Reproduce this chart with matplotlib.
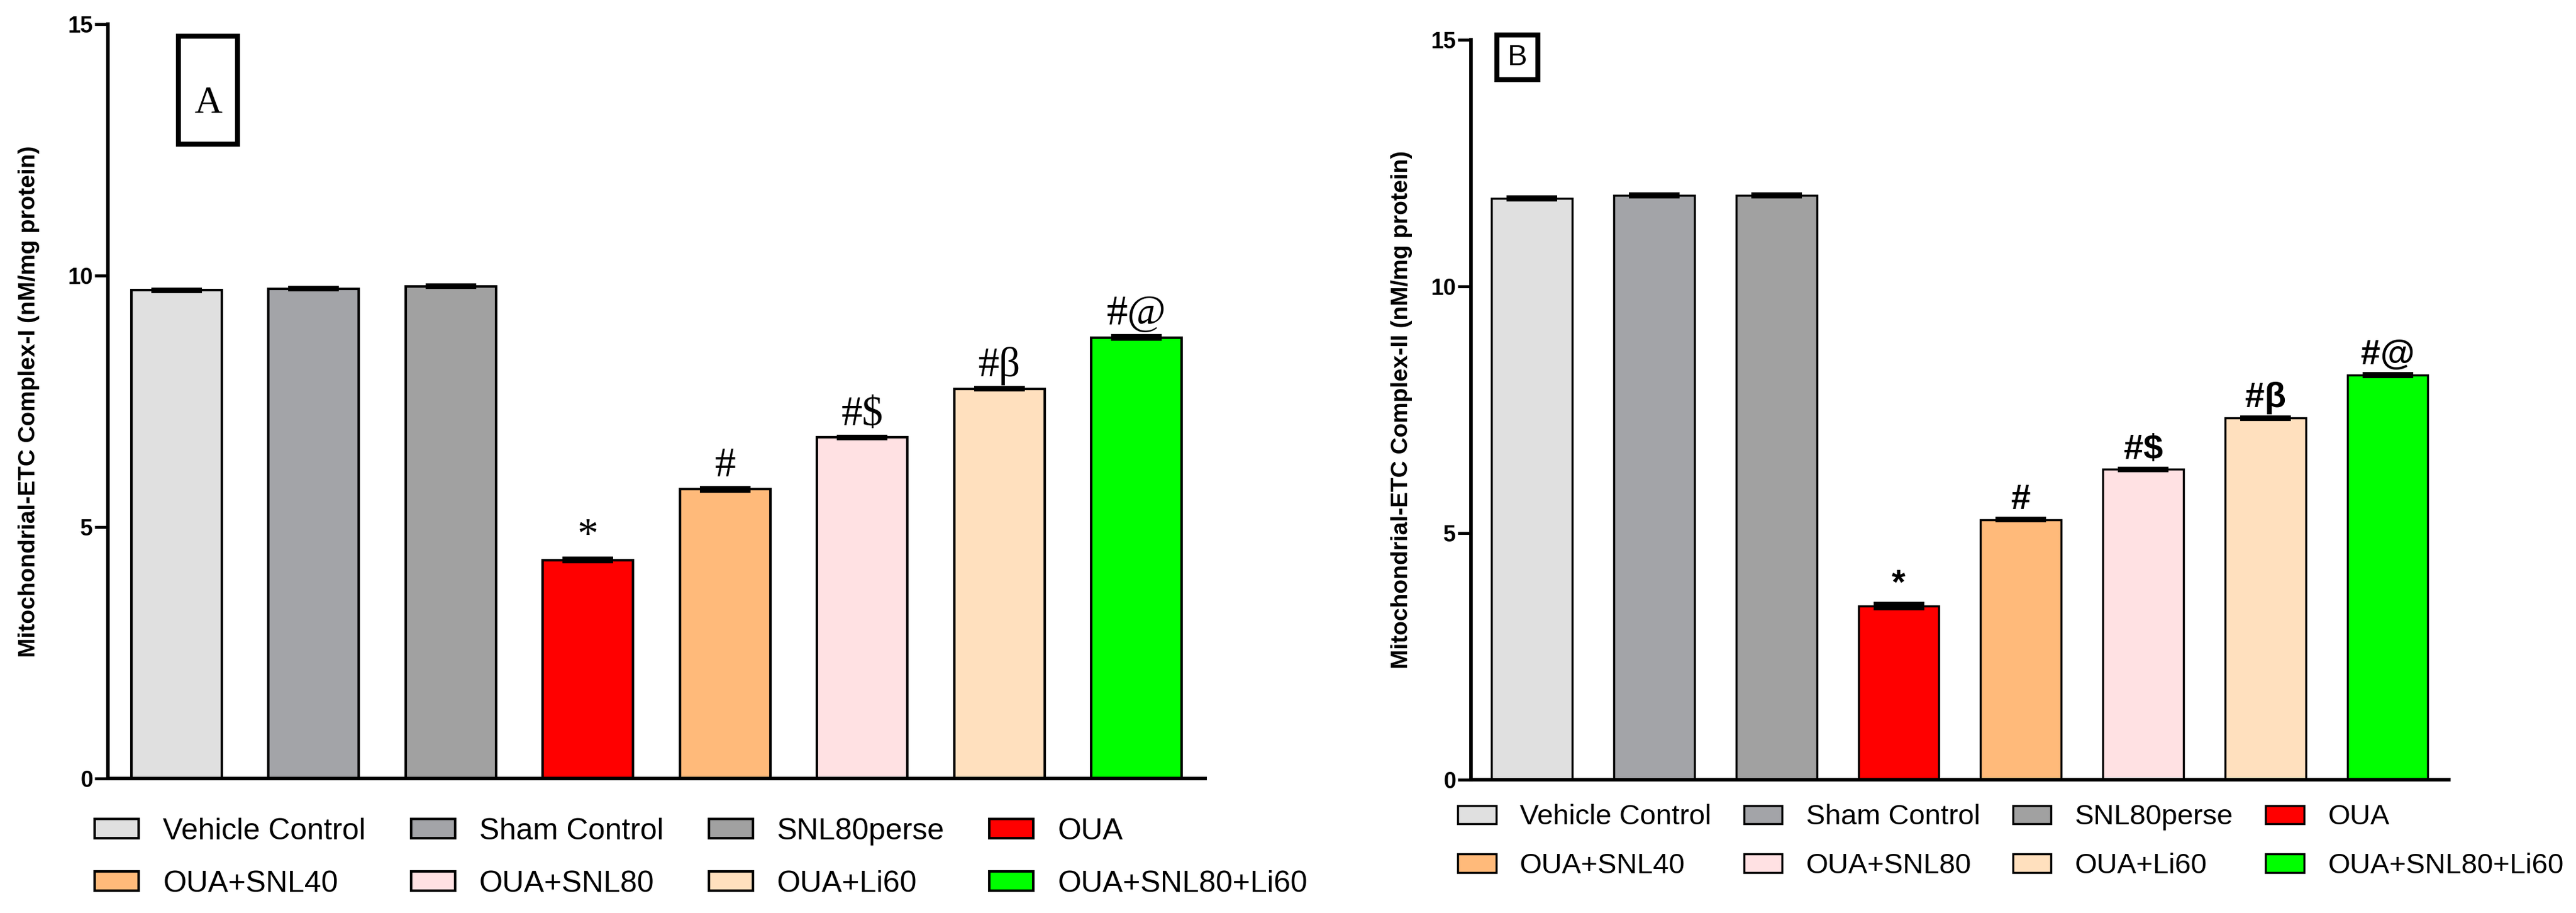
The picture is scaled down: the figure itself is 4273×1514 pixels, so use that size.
import numpy as np
import matplotlib
matplotlib.use("Agg")
import matplotlib.pyplot as plt
from matplotlib.patches import Rectangle

groups = ["Vehicle Control", "Sham Control", "SNL80perse", "OUA",
          "OUA+SNL40", "OUA+SNL80", "OUA+Li60", "OUA+SNL80+Li60"]
colors = ["#e0e0e0", "#a3a4a8", "#a1a1a1", "#ff0000",
          "#ffba7a", "#ffe1e3", "#ffe0be", "#00ff00"]

complex1 = [9.71, 9.74, 9.79, 4.34, 5.75, 6.78, 7.75, 8.77]
complex1_err = [0.02, 0.02, 0.02, 0.03, 0.03, 0.02, 0.02, 0.03]
complex2 = [11.78, 11.84, 11.84, 3.52, 5.27, 6.29, 7.33, 8.20]
complex2_err = [0.02, 0.02, 0.02, 0.05, 0.02, 0.02, 0.02, 0.02]
marks = ["", "", "", "*", "#", "#$", "#\u03b2", "#@"]

ylabel1 = "Mitochondrial-ETC Complex-I (nM/mg protein)"
ylabel2 = "Mitochondrial-ETC Complex-II (nM/mg protein)"

plt.rcParams['font.family'] = ['Liberation Sans', 'DejaVu Sans']

fig = plt.figure(figsize=(42.73, 15.14), dpi=100)
axA = fig.add_axes([0.0419, 0.1476, 0.4259, 0.8257])
axB = fig.add_axes([0.5710, 0.1460, 0.3796, 0.8107])


def draw_panel(ax, vals, errs, ylabel, lw, mark_font, mark_size, mark_weight):
    x = np.arange(len(vals))
    bars = ax.bar(x, vals, width=0.66, color=colors, edgecolor='black',
                  linewidth=lw, zorder=2, label=groups)
    ax.errorbar(x, vals, yerr=errs, fmt='none', ecolor='black',
                elinewidth=3, capsize=30, capthick=4.5, zorder=3)
    for xi, v, e, m in zip(x, vals, errs, marks):
        if m:
            ax.text(xi, v + e + 0.05, m, ha='center', va='bottom',
                    fontsize=mark_size, family=mark_font, weight=mark_weight)
    ax.set_xlim(-0.5, 7.5)
    ax.set_ylim(0, 15)
    ax.set_yticks([0, 5, 10, 15])
    ax.set_xticks([])
    for s in ['top', 'right']:
        ax.spines[s].set_visible(False)
    for s in ['left', 'bottom']:
        ax.spines[s].set_linewidth(4.2)
    ax.tick_params(axis='y', length=16, width=3.5, pad=2, labelsize=27)
    for t in ax.get_yticklabels():
        t.set_fontweight('bold')
    ax.set_ylabel(ylabel, fontsize=28, fontweight='bold')
    # legend row-wise: 4 columns, 2 rows
    order = [0, 4, 1, 5, 2, 6, 3, 7]
    hs = [bars.patches[i] for i in order]
    ls = [groups[i] for i in order]
    return hs, ls


hA, lA = draw_panel(axA, complex1, complex1_err, ylabel1, 3.0,
                    ['Liberation Serif', 'DejaVu Serif'], 50, 'normal')
hB, lB = draw_panel(axB, complex2, complex2_err, ylabel2, 2.5,
                    ['Liberation Sans', 'DejaVu Sans'], 42, 'bold')

axA.yaxis.set_label_coords(-0.062, 0.5)
axB.yaxis.set_label_coords(-0.060, 0.5)

legA = axA.legend(hA, lA, ncol=4, loc='upper left', bbox_to_anchor=(-0.012, -0.052),
                  frameon=False, fontsize=36, borderpad=0, borderaxespad=0,
                  handlelength=1.46, handleheight=0.62, handletextpad=0.8,
                  columnspacing=1.5, labelspacing=0.82)
legB = axB.legend(hB, lB, ncol=4, loc='upper left', bbox_to_anchor=(-0.0136, -0.033),
                  frameon=False, fontsize=34, borderpad=0, borderaxespad=0,
                  handlelength=1.35, handleheight=0.62, handletextpad=0.83,
                  columnspacing=1.15, labelspacing=0.78)

# panel letters in boxes
axA.add_patch(Rectangle((0.0643, 0.841), 0.0537, 0.143, transform=axA.transAxes,
                        fill=False, edgecolor='black', linewidth=6, clip_on=False))
axA.text(0.0912, 0.895, "A", transform=axA.transAxes, ha='center', va='center',
         fontsize=46, family=['Liberation Serif', 'DejaVu Serif'])
axB.add_patch(Rectangle((0.0265, 0.946), 0.0419, 0.0605, transform=axB.transAxes,
                        fill=False, edgecolor='black', linewidth=6, clip_on=False))
axB.text(0.0475, 0.976, "B", transform=axB.transAxes, ha='center', va='center',
         fontsize=35)

fig.savefig("out.png", dpi=100, facecolor='white')
